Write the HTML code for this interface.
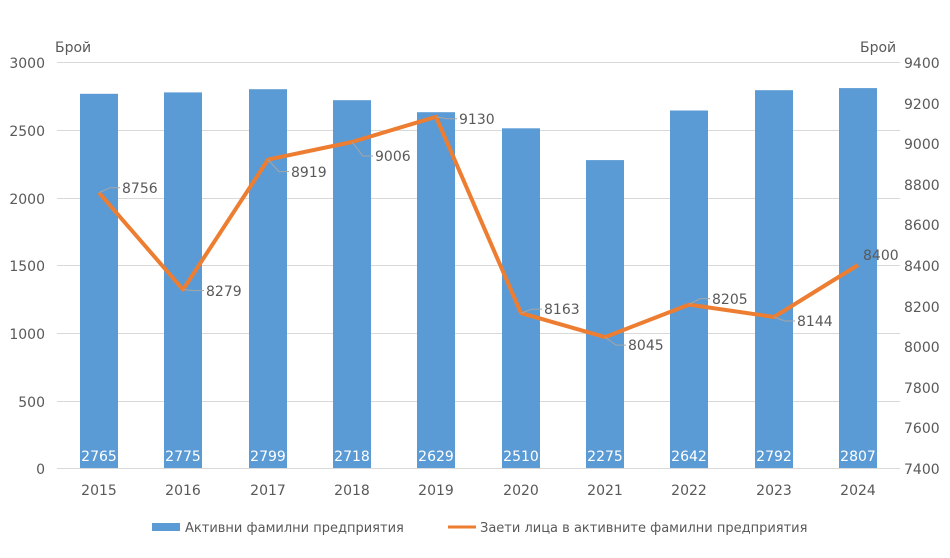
<!DOCTYPE html>
<html><head><meta charset="utf-8"><style>
body{margin:0;background:#fff}
svg text{font-family:"DejaVu Sans","Liberation Sans",sans-serif;fill:#595959}
</style></head><body>
<svg width="950" height="553" viewBox="0 0 950 553" xmlns="http://www.w3.org/2000/svg">
<g stroke="#d9d9d9" stroke-width="1">
<line x1="57" x2="900" y1="62.5" y2="62.5"/><line x1="57" x2="900" y1="130.5" y2="130.5"/>
<line x1="57" x2="900" y1="198.5" y2="198.5"/><line x1="57" x2="900" y1="265.5" y2="265.5"/>
<line x1="57" x2="900" y1="333.5" y2="333.5"/><line x1="57" x2="900" y1="401.5" y2="401.5"/>
<line x1="57" x2="900" y1="468.5" y2="468.5"/>
</g>
<g font-size="14" text-anchor="end">
<text x="45" y="68">3000</text><text x="45" y="136">2500</text><text x="45" y="204">2000</text>
<text x="45" y="271">1500</text><text x="45" y="339">1000</text><text x="45" y="407">500</text><text x="45" y="474">0</text>
</g>
<g font-size="14">
<text x="904" y="68">9400</text><text x="904" y="109">9200</text><text x="904" y="149">9000</text>
<text x="904" y="190">8800</text><text x="904" y="230">8600</text><text x="904" y="271">8400</text>
<text x="904" y="312">8200</text><text x="904" y="352">8000</text><text x="904" y="393">7800</text>
<text x="904" y="433">7600</text><text x="904" y="474">7400</text>
</g>
<text x="55" y="52" font-size="14">Брой</text>
<text x="860" y="52" font-size="14">Брой</text>
<g fill="#5b9bd5">
<rect x="80" y="93.8" width="38" height="374.2"/>
<rect x="164" y="92.4" width="38" height="375.6"/>
<rect x="249" y="89.2" width="38" height="378.8"/>
<rect x="333" y="100.2" width="38" height="367.8"/>
<rect x="417" y="112.2" width="38" height="355.8"/>
<rect x="502" y="128.3" width="38" height="339.7"/>
<rect x="586" y="160.1" width="38" height="307.9"/>
<rect x="670" y="110.5" width="38" height="357.5"/>
<rect x="755" y="90.2" width="38" height="377.8"/>
<rect x="839" y="88.1" width="38" height="379.9"/>
</g>
<g font-size="14" text-anchor="middle" style="fill:#fff">
<text x="99" y="461" style="fill:#fff">2765</text><text x="183" y="461" style="fill:#fff">2775</text>
<text x="268" y="461" style="fill:#fff">2799</text><text x="352" y="461" style="fill:#fff">2718</text>
<text x="436" y="461" style="fill:#fff">2629</text><text x="521" y="461" style="fill:#fff">2510</text>
<text x="605" y="461" style="fill:#fff">2275</text><text x="689" y="461" style="fill:#fff">2642</text>
<text x="774" y="461" style="fill:#fff">2792</text><text x="858" y="461" style="fill:#fff">2807</text>
</g>
<g font-size="14" text-anchor="middle">
<text x="99" y="495">2015</text><text x="183" y="495">2016</text><text x="268" y="495">2017</text>
<text x="352" y="495">2018</text><text x="436" y="495">2019</text><text x="521" y="495">2020</text>
<text x="605" y="495">2021</text><text x="689" y="495">2022</text><text x="774" y="495">2023</text>
<text x="858" y="495">2024</text>
</g>
<polyline points="99,192.7 183,289.6 268,159.6 352,142 436,116.8 521,313.1 605,337.1 689,304.6 774,317 858,265" fill="none" stroke="#ed7d31" stroke-width="4" stroke-linejoin="round"/>
<g fill="none" stroke="#a6a6a6" stroke-width="1">
<polyline points="99,192.7 110,187.7 120,187.7"/>
<polyline points="183,289.6 194,290.6 204,290.6"/>
<polyline points="268,159.6 279,171.6 289,171.6"/>
<polyline points="352,142 363,156 373,156"/>
<polyline points="436,116.8 447,118.8 457,118.8"/>
<polyline points="521,313.1 532,309.1 542,309.1"/>
<polyline points="605,337.1 616,345.1 626,345.1"/>
<polyline points="689,304.6 700,298.6 710,298.6"/>
<polyline points="774,317 785,321 795,321"/>
</g>
<g font-size="14">
<text x="122" y="193">8756</text><text x="206" y="296">8279</text><text x="291" y="177">8919</text>
<text x="375" y="161">9006</text><text x="459" y="124">9130</text><text x="544" y="314">8163</text>
<text x="628" y="350">8045</text><text x="712" y="304">8205</text><text x="797" y="326">8144</text>
<text x="863" y="260">8400</text>
</g>
<rect x="152" y="523" width="28" height="8" fill="#5b9bd5"/>
<text x="185" y="532" font-size="13">Активни фамилни предприятия</text>
<line x1="448" x2="476" y1="527" y2="527" stroke="#ed7d31" stroke-width="3"/>
<text x="480" y="532" font-size="13">Заети лица в активните фамилни предприятия</text>
</svg>
</body></html>
